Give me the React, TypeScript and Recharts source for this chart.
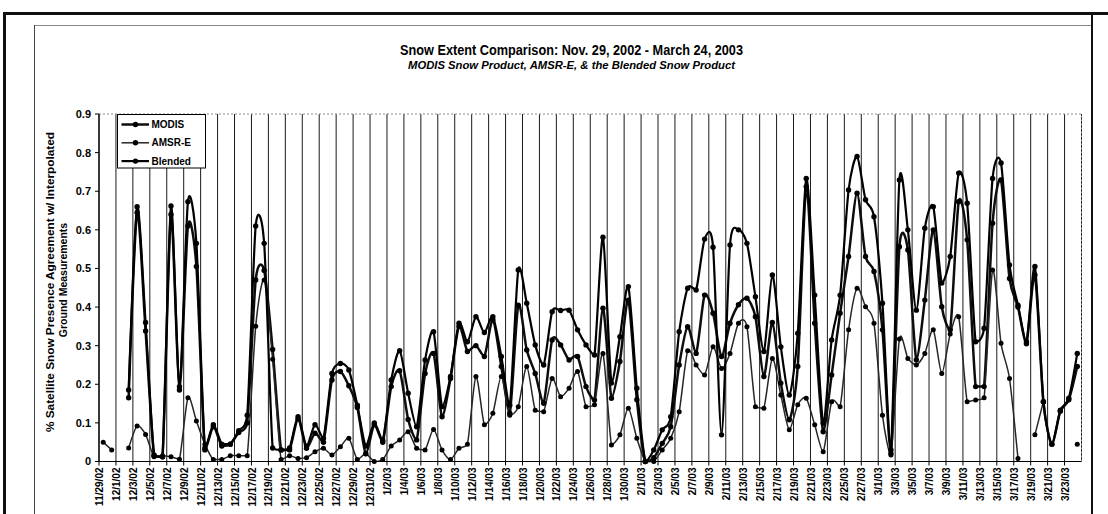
import React from 'react';
import { LineChart, Line, XAxis, YAxis, CartesianGrid, ReferenceLine } from 'recharts';

const FONT = '"Liberation Sans", Arial, Helvetica, sans-serif';

// tick labels every second day (11/29/02 .. 3/23/03)
const tickLabels = [
  '11/29/02', '12/1/02', '12/3/02', '12/5/02', '12/7/02', '12/9/02', '12/11/02', '12/13/02',
  '12/15/02', '12/17/02', '12/19/02', '12/21/02', '12/23/02', '12/25/02', '12/27/02', '12/29/02',
  '12/31/02', '1/2/03', '1/4/03', '1/6/03', '1/8/03', '1/10/03', '1/12/03', '1/14/03', '1/16/03',
  '1/18/03', '1/20/03', '1/22/03', '1/24/03', '1/26/03', '1/28/03', '1/30/03', '2/1/03', '2/3/03',
  '2/5/03', '2/7/03', '2/9/03', '2/11/03', '2/13/03', '2/15/03', '2/17/03', '2/19/03', '2/21/03',
  '2/23/03', '2/25/03', '2/27/03', '3/1/03', '3/3/03', '3/5/03', '3/7/03', '3/9/03', '3/11/03',
  '3/13/03', '3/15/03', '3/17/03', '3/19/03', '3/21/03', '3/23/03',
];

const yTicks = [0, 0.1, 0.2, 0.3, 0.4, 0.5, 0.6, 0.7, 0.8, 0.9];

// daily values, 11/29/02 .. 3/24/03 (116 days)
const modis = [
  null, null, null, 0.165, 0.645, 0.338, 0.015, 0.012, 0.64, 0.185,
  0.61, 0.505, 0.03, 0.09, 0.04, 0.045, 0.075, 0.1, 0.47, 0.495,
  0.29, 0.03, 0.03, 0.11, 0.034, 0.073, 0.05, 0.211, 0.233, 0.196,
  0.14, 0.02, 0.095, 0.05, 0.194, 0.235, 0.109, 0.056, 0.228, 0.28,
  0.116, 0.215, 0.35, 0.285, 0.3, 0.272, 0.367, 0.246, 0.125, 0.405,
  0.289, 0.228, 0.151, 0.315, 0.302, 0.263, 0.272, 0.194, 0.159, 0.397,
  0.164, 0.259, 0.418, 0.16, 0, 0.01, 0.047, 0.09, 0.25, 0.349,
  0.28, 0.431, 0.384, 0.272, 0.358, 0.406, 0.423, 0.375, 0.22, 0.36,
  0.203, 0.108, 0.246, 0.712, 0.358, 0.077, 0.224, 0.384, 0.531, 0.695,
  0.531, 0.492, 0.341, 0.021, 0.556, 0.548, 0.263, 0.418, 0.6, 0.401,
  0.341, 0.673, 0.574, 0.194, 0.194, 0.617, 0.729, 0.474, 0.4, 0.305,
  0.483, 0.155, 0.045, 0.13, 0.16, 0.246,
];

const amsr = [
  0.05, 0.03, null, 0.035, 0.092, 0.07, 0.012, 0.015, 0.012, 0.006,
  0.165, 0.105, 0.045, 0.005, 0.005, 0.015, 0.015, 0.015, 0.35, 0.47,
  0.265, 0.005, 0.015, 0.008, 0.01, 0.025, 0.034, 0.017, 0.038, 0.06,
  0.005, 0.02, 0, 0.005, 0.04, 0.056, 0.077, 0.034, 0.03, 0.083,
  0.03, 0.005, 0.034, 0.045, 0.22, 0.095, 0.125, 0.22, 0.12, 0.142,
  0.246, 0.133, 0.129, 0.215, 0.168, 0.19, 0.233, 0.142, 0.147, 0.28,
  0.043, 0.069, 0.138, 0.06, 0, 0, 0.03, 0.06, 0.129, 0.287,
  0.25, 0.224, 0.297, 0.241, 0.28, 0.358, 0.349, 0.142, 0.138, 0.267,
  0.172, 0.082, 0.147, 0.164, 0.095, 0.025, 0.155, 0.142, 0.341, 0.449,
  0.401, 0.358, 0.12, 0.017, 0.317, 0.267, 0.25, 0.28, 0.341, 0.228,
  0.33, 0.375, 0.155, 0.159, 0.165, 0.496, 0.306, 0.215, 0.008, null,
  0.069, 0.155, null, null, null, 0.045,
];

const blended = [
  null, null, null, 0.185, 0.66, 0.36, 0.017, 0.012, 0.662, 0.194,
  0.673, 0.565, 0.035, 0.095, 0.045, 0.045, 0.08, 0.12, 0.61, 0.565,
  0.035, 0.03, 0.035, 0.116, 0.04, 0.095, 0.06, 0.228, 0.254, 0.237,
  0.146, 0.04, 0.1, 0.055, 0.211, 0.287, 0.177, 0.09, 0.263, 0.336,
  0.142, 0.22, 0.358, 0.31, 0.375, 0.334, 0.375, 0.272, 0.146, 0.496,
  0.41, 0.302, 0.25, 0.388, 0.391, 0.392, 0.341, 0.302, 0.276, 0.581,
  0.203, 0.323, 0.453, 0.19, 0, 0.03, 0.082, 0.116, 0.336, 0.449,
  0.444, 0.576, 0.555, 0.069, 0.561, 0.6, 0.565, 0.427, 0.285, 0.483,
  0.297, 0.172, 0.332, 0.733, 0.431, 0.099, 0.315, 0.431, 0.703, 0.79,
  0.678, 0.634, 0.41, 0.03, 0.729, 0.6, 0.392, 0.604, 0.66, 0.462,
  0.531, 0.747, 0.669, 0.31, 0.345, 0.733, 0.773, 0.509, 0.405, 0.31,
  0.505, 0.155, 0.045, 0.133, 0.164, 0.28,
];

// day index -> centre of the day's slot on a 0..116 axis
const data = modis.map((m, i) => ({
  day: i + 0.5,
  modis: m,
  amsr: amsr[i],
  blended: blended[i],
}));

const tickPositions = tickLabels.map((_, i) => i * 2);

// Excel-like smoothing (cardinal spline), control points kept from dropping below the segment's lower end
function bez(that: any, x: number, y: number) {
  const lo = Math.max(that._y1, that._y2);
  let c1y = that._y1 + that._k * (that._y2 - that._y0);
  let c2y = that._y2 + that._k * (that._y1 - y);
  if (c1y > lo) c1y = lo;
  if (c2y > lo) c2y = lo;
  that._context.bezierCurveTo(
    that._x1 + that._k * (that._x2 - that._x0),
    c1y,
    that._x2 + that._k * (that._x1 - x),
    c2y,
    that._x2,
    that._y2
  );
}
class Cardinal {
  _context: any; _k: number; _line: any; _point = 0;
  _x0 = NaN; _x1 = NaN; _x2 = NaN; _y0 = NaN; _y1 = NaN; _y2 = NaN;
  constructor(context: any) { this._context = context; this._k = 0.125; }
  areaStart() { this._line = 0; }
  areaEnd() { this._line = NaN; }
  lineStart() {
    this._x0 = this._x1 = this._x2 = this._y0 = this._y1 = this._y2 = NaN;
    this._point = 0;
  }
  lineEnd() {
    switch (this._point) {
      case 2: this._context.lineTo(this._x2, this._y2); break;
      case 3: bez(this, this._x1, this._y1); break;
    }
    if (this._line || (this._line !== 0 && this._point === 1)) this._context.closePath();
    this._line = 1 - this._line;
  }
  point(x: number, y: number) {
    x = +x; y = +y;
    switch (this._point) {
      case 0: this._point = 1; this._line ? this._context.lineTo(x, y) : this._context.moveTo(x, y); break;
      case 1: this._point = 2; this._x1 = x; this._y1 = y; break;
      case 2: this._point = 3; bez(this, x, y); break;
      default: bez(this, x, y); break;
    }
    this._x0 = this._x1; this._x1 = this._x2; this._x2 = x;
    this._y0 = this._y1; this._y1 = this._y2; this._y2 = y;
  }
}
const smooth: any = (ctx: any) => new Cardinal(ctx);

const XTick = (props: any) => {
  const { x, y, payload } = props;
  const label = tickLabels[Math.round(payload.value / 2)];
  return (
    <text
      x={x + 0.5}
      y={y}
      transform={`rotate(-90 ${x + 0.5} ${y})`}
      textAnchor="end"
      dy="0.36em"
      fontSize={10}
      fontWeight="bold"
      fontFamily={FONT}
      fill="#000"
    >
      {label}
    </text>
  );
};

const series = [
  { key: 'modis', name: 'MODIS', color: '#0d0d0d', width: 2.5, r: 2.7 },
  { key: 'amsr', name: 'AMSR-E', color: '#262626', width: 1.5, r: 2.5 },
  { key: 'blended', name: 'Blended', color: '#000', width: 2.2, r: 2.7 },
];

export default function App() {
  return (
    <div
      style={{
        position: 'absolute', left: 0, top: 0, width: 1108, height: 514,
        background: '#fff', overflow: 'hidden', fontFamily: FONT,
      }}
    >
      {/* outer frame */}
      <div style={{ position: 'absolute', left: 3, top: 12, width: 1105, height: 3, background: '#111' }} />
      <div style={{ position: 'absolute', left: 3, top: 12, width: 2.5, height: 510, background: '#111' }} />
      <div style={{ position: 'absolute', left: 1091, top: 12, width: 2, height: 510, background: '#111' }} />
      {/* inner chart-area frame */}
      <div style={{ position: 'absolute', left: 34, top: 25, width: 1057, height: 1, background: '#888' }} />
      <div style={{ position: 'absolute', left: 34, top: 25, width: 1, height: 490, background: '#444' }} />

      <div style={{ position: 'absolute', left: 0, top: 0 }}>
        <LineChart
          width={1108}
          height={514}
          data={data}
          margin={{ top: 114, right: 26.5, bottom: 0, left: 0 }}
        >
          <CartesianGrid horizontal={false} vertical stroke="#1a1a1a" strokeWidth={1} />
          <XAxis
            type="number"
            dataKey="day"
            domain={[0, 116]}
            ticks={tickPositions}
            interval={0}
            height={52.5}
            tick={<XTick />}
            tickSize={4}
            tickMargin={2}
            axisLine={{ stroke: '#000', strokeWidth: 1.2 }}
            tickLine={{ stroke: '#000' }}
            allowDataOverflow
          />
          <YAxis
            type="number"
            domain={[0, 0.9]}
            ticks={yTicks}
            interval={0}
            width={99}
            tickSize={4}
            tickMargin={4}
            tickFormatter={(v: number) => (v === 0 ? '0' : v.toFixed(1))}
            tick={{ fontSize: 11, fontWeight: 'bold', fill: '#000', fontFamily: FONT }}
            axisLine={{ stroke: '#000', strokeWidth: 1.2 }}
            tickLine={{ stroke: '#000' }}
          />
          <ReferenceLine y={0.9} stroke="#8a8a8a" strokeDasharray="2 2" ifOverflow="extendDomain" />
          <ReferenceLine x={116} stroke="#8a8a8a" strokeDasharray="2 2" ifOverflow="extendDomain" />
          {series.map((s) => (
            <Line
              key={s.key}
              dataKey={s.key}
              name={s.name}
              type={smooth}
              stroke={s.color}
              strokeWidth={s.width}
              dot={{ r: s.r, fill: '#000', stroke: '#000', strokeWidth: 0 }}
              activeDot={false}
              connectNulls={false}
              isAnimationActive={false}
            />
          ))}
        </LineChart>
      </div>

      <svg
        width={1108}
        height={514}
        style={{ position: 'absolute', left: 0, top: 0, pointerEvents: 'none' }}
      >
        <text
          x={571.5} y={54.5} textAnchor="middle" fontSize={14} fontWeight="bold"
          fontFamily={FONT} textLength={343} lengthAdjust="spacingAndGlyphs" fill="#000"
        >
          Snow Extent Comparison: Nov. 29, 2002 - March 24, 2003
        </text>
        <text
          x={571.5} y={68.5} textAnchor="middle" fontSize={11} fontWeight="bold" fontStyle="italic"
          fontFamily={FONT} textLength={327} lengthAdjust="spacingAndGlyphs" fill="#000"
        >
          MODIS Snow Product, AMSR-E, &amp; the Blended Snow Product
        </text>

        <text
          x={50} y={282} transform="rotate(-90 50 282)" textAnchor="middle" dy="0.36em"
          fontSize={10.5} fontWeight="bold" fontFamily={FONT} textLength={300}
          lengthAdjust="spacingAndGlyphs" fill="#000"
        >
          % Satellite Snow Presence Agreement w/ Interpolated
        </text>
        <text
          x={63.5} y={280} transform="rotate(-90 63.5 280)" textAnchor="middle" dy="0.36em"
          fontSize={10.5} fontWeight="bold" fontFamily={FONT} fill="#000"
        >
          Ground Measurements
        </text>

        <g>
          <rect x={117.5} y={114.5} width={88} height={53.5} fill="#fff" stroke="#000" strokeWidth={1} />
          {series.map((s, i) => {
            const cy = 124.5 + i * 18.3;
            return (
              <g key={s.key}>
                <line x1={121.5} y1={cy} x2={149} y2={cy} stroke={s.color} strokeWidth={s.width} />
                <circle cx={135.5} cy={cy} r={2.7} fill="#000" />
                <text
                  x={151.5} y={cy} dy="0.36em" fontSize={10} fontWeight="bold"
                  fontFamily={FONT} fill="#000"
                >
                  {s.name}
                </text>
              </g>
            );
          })}
        </g>
      </svg>
    </div>
  );
}
